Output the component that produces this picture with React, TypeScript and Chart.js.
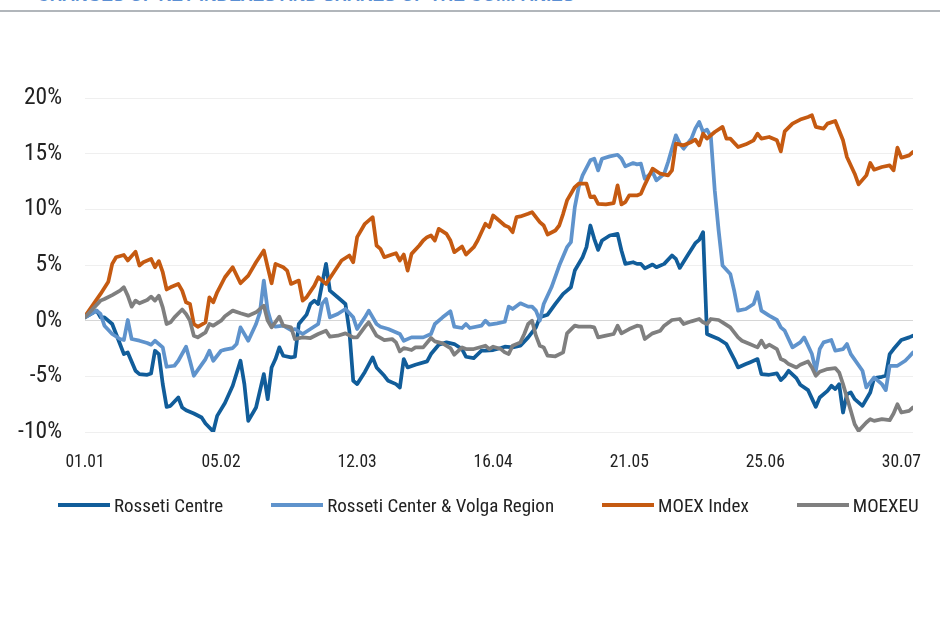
import { useEffect, useRef } from "react";
import { Chart, registerables } from "chart.js";

Chart.register(...registerables);

const FONT = "Roboto";
const STRETCH = "condensed";

const titleText = "CHANGES OF KEY INDEXES AND SHARES OF THE COMPANIES";
const tickDays = [0, 35, 70, 105, 140, 175, 210];
const tickLabels = ["01.01", "05.02", "12.03", "16.04", "21.05", "25.06", "30.07"];
const seriesNames = ["Rosseti Centre", "Rosseti Center & Volga Region", "MOEX Index", "MOEXEU"];
const seriesColors = ["#115d9a", "#5f93cc", "#c55a11", "#7f7f7f"];

const centreDays = [0,3,4,5,7,8,9,10,11,13,14,16,17,18,19,20,21,22,24,25,26,28,30,31,33,34,36,38,40,41,42,44,46,47,48,49,50,51,53,54,55,57,58,59,60,62,63,65,67,68,69,70,72,74,75,77,78,80,81,82,83,85,88,89,91,93,95,97,98,100,102,103,105,107,108,110,112,114,116,117,119,121,123,124,125,126,128,129,130,131,132,133,135,137,138,139,141,142,143,144,146,147,149,151,152,153,155,157,158,159,160,161,163,165,167,168,170,171,173,174,176,178,179,180,181,183,184,186,188,189,191,192,193,194,195,196,197,198,200,202,203,205,206,207,208,210,212,213];
const centreVals = [0.3,0.9,0.3,0.3,-0.3,-1.2,-2.1,-3.0,-2.85,-4.5,-4.8,-4.86,-4.74,-2.7,-3.0,-5.7,-7.74,-7.65,-6.9,-7.8,-8.04,-8.34,-8.7,-9.24,-9.96,-8.55,-7.4,-5.85,-3.6,-5.7,-9.0,-7.8,-4.8,-7.05,-4.2,-3.45,-2.4,-3.15,-3.3,-3.24,-0.3,0.54,1.5,1.8,1.5,5.1,2.7,2.1,1.5,-0.9,-5.4,-5.7,-4.6,-3.3,-4.2,-4.95,-5.4,-5.7,-6.0,-3.45,-4.2,-3.96,-3.66,-3.0,-2.16,-1.95,-2.1,-2.55,-3.24,-3.36,-2.7,-2.7,-2.64,-2.46,-2.34,-2.4,-2.25,-1.5,-0.6,0.3,0.54,1.5,2.4,2.7,3.0,4.5,5.7,6.6,8.55,7.35,6.36,7.2,7.65,7.8,6.3,5.1,5.25,5.1,5.1,4.7,5.04,4.8,5.1,5.85,5.55,4.74,5.85,6.96,7.26,7.95,-1.2,-1.35,-1.65,-2.1,-3.45,-4.2,-3.9,-3.75,-3.45,-4.8,-4.86,-4.74,-5.34,-5.0,-4.5,-5.16,-5.76,-6.24,-7.74,-6.9,-6.3,-5.85,-6.15,-5.7,-8.25,-6.6,-6.45,-7.05,-7.65,-6.45,-5.16,-5.04,-4.95,-3.0,-2.55,-1.74,-1.5,-1.35];

const volgaDays = [0,3,4,5,7,9,10,11,12,14,16,17,18,20,21,23,24,26,27,28,29,31,32,33,35,36,38,39,40,42,44,45,46,47,48,49,51,53,54,56,58,60,61,62,63,65,67,69,70,72,73,75,76,78,81,82,84,87,89,90,92,94,95,97,98,99,102,103,104,106,108,109,110,112,114,115,116,117,118,120,122,124,125,126,127,128,130,131,132,133,135,137,138,139,141,142,143,144,146,147,149,150,152,153,154,156,157,158,159,160,161,162,163,164,166,167,168,170,172,173,174,176,178,179,180,182,184,185,187,188,189,190,192,193,195,196,197,200,201,203,205,206,207,209,211,212,213];
const volgaVals = [0.3,0.9,0.6,-0.45,-1.2,-1.65,-1.74,0.06,-1.65,-1.8,-2.0,-2.16,-1.8,-2.4,-4.14,-4.05,-3.6,-2.34,-3.6,-4.95,-4.44,-3.45,-2.7,-3.6,-2.7,-2.6,-2.46,-2.1,-0.6,-1.8,-0.3,0.75,3.6,0.9,-0.3,-0.54,-0.45,-0.84,-0.75,-1.2,-0.75,-0.3,1.5,1.95,0.3,0.6,1.05,0.3,-0.75,0.3,0.9,-0.3,-0.54,-0.75,-1.2,-1.8,-1.5,-1.5,-1.2,-0.3,0.3,0.84,-0.54,-0.66,-0.3,-0.66,-0.45,0,-0.36,-0.24,-0.1,1.26,1.05,1.56,1.26,1.26,0.9,0,1.5,3.0,4.95,6.6,7.05,10.2,12.0,13.05,14.4,14.55,13.5,14.55,14.76,14.9,14.55,13.86,14.16,14.04,14.1,12.75,13.35,12.6,13.2,14.25,16.65,15.9,15.45,16.35,17.25,17.85,16.95,17.16,16.5,11.7,8.1,4.95,4.2,2.7,0.9,1.05,1.5,2.55,0.9,0.45,0.06,-0.6,-0.9,-2.4,-1.95,-1.5,-3.0,-4.5,-2.55,-1.95,-1.74,-2.7,-2.55,-2.1,-3.0,-4.5,-6.0,-5.1,-5.7,-6.24,-4.05,-4.05,-3.6,-3.24,-2.85];

const moexDays = [0,4,6,7,8,10,11,13,14,15,17,18,19,20,21,22,24,25,26,27,28,29,31,32,33,34,36,38,40,42,44,46,47,48,49,51,52,53,55,56,57,59,60,62,64,66,68,69,70,72,74,75,76,77,79,80,81,82,83,84,86,87,88,89,90,91,93,94,95,97,98,100,101,103,104,105,106,108,109,110,111,112,114,115,117,118,119,121,122,123,124,125,126,127,129,130,131,132,134,136,137,138,139,140,142,143,144,146,148,150,151,152,154,156,157,158,159,160,162,164,165,166,168,170,172,173,174,176,178,179,180,182,184,186,187,188,190,191,193,195,196,198,199,201,202,203,205,207,208,209,210,212,213];
const moexVals = [0.4,2.4,3.5,5.1,5.7,5.9,5.4,6.2,4.95,5.25,5.55,4.8,5.35,4.35,2.8,3.0,3.3,2.7,1.65,1.5,-0.3,-0.55,-0.15,2.1,1.65,2.55,3.9,4.8,3.36,4.05,5.25,6.3,4.8,3.36,5.1,4.8,4.5,3.3,3.6,1.8,2.1,3.15,3.9,3.3,4.35,5.4,5.85,5.25,7.5,8.7,9.3,6.75,6.45,5.7,5.94,6.06,5.4,5.94,4.5,6.0,6.75,7.2,7.5,7.65,7.2,8.25,7.8,7.2,6.15,6.66,5.94,6.6,7.2,8.7,8.4,9.45,9.15,8.55,8.4,7.95,9.3,9.36,9.6,9.75,8.85,8.55,7.74,8.1,8.55,9.6,10.8,11.4,12.0,12.3,12.3,11.1,11.16,10.5,10.44,10.56,12.15,10.44,10.65,11.25,11.25,11.4,12.2,13.65,13.2,13.05,13.5,15.9,15.75,16.05,16.26,15.75,16.8,16.35,16.95,17.4,16.35,16.35,15.6,15.84,16.2,16.8,16.35,16.5,16.2,15.2,17.0,17.7,18.06,18.3,18.45,17.4,17.25,17.7,17.94,16.2,14.7,13.2,12.24,13.05,14.16,13.56,13.8,13.95,13.5,15.54,14.64,14.85,15.15];

const moexeuDays = [0,4,5,7,9,10,11,12,13,14,16,17,18,19,20,21,22,23,25,26,27,28,29,31,32,33,35,36,38,40,42,44,46,47,48,50,51,53,54,56,58,60,62,63,65,67,69,70,72,73,75,77,79,80,81,82,84,85,87,89,90,92,94,95,97,98,100,103,104,105,107,108,109,110,112,113,114,115,116,117,118,119,121,123,124,126,127,130,131,132,134,136,137,138,140,142,143,144,146,148,149,151,153,154,156,158,159,160,161,163,164,166,168,169,171,173,174,175,176,178,179,180,181,183,184,186,187,188,189,191,193,194,195,196,197,198,199,201,202,203,205,207,208,209,210,212,213];
const moexeuVals = [0.3,1.8,1.95,2.3,2.7,3.0,2.25,1.26,1.8,1.56,1.86,2.16,1.8,2.25,1.2,-0.3,-0.15,0.3,1.0,0.6,0,-1.35,-1.5,-1.05,-0.3,-0.45,0,0.4,0.9,0.66,0.45,0.75,1.35,0,-0.6,0.36,-0.45,-0.6,-1.65,-1.5,-1.56,-1.2,-0.9,-1.44,-1.35,-1.14,-1.5,-1.5,-0.55,-0.15,-1.35,-1.74,-1.65,-1.95,-2.76,-2.46,-2.64,-2.4,-2.4,-1.56,-1.86,-2.04,-2.46,-3.06,-2.4,-2.55,-2.55,-2.25,-2.55,-2.34,-2.55,-2.85,-3.0,-2.25,-1.95,-1.2,-0.3,0,-1.35,-2.25,-2.4,-3.15,-3.2,-2.85,-1.14,-0.45,-0.54,-0.54,-0.6,-1.5,-1.35,-1.2,-0.45,-1.14,-0.75,-0.45,-0.5,-1.65,-1.14,-0.9,-0.45,0.06,0.15,-0.3,-0.06,0.15,-0.15,-0.3,0.15,0.06,-0.15,-0.6,-1.5,-1.8,-2.1,-2.4,-1.8,-2.4,-2.16,-2.55,-3.45,-3.6,-3.9,-4.2,-3.96,-3.66,-4.2,-4.95,-4.59,-4.35,-4.26,-4.65,-5.7,-6.9,-8.1,-9.3,-9.9,-9.15,-8.85,-9.0,-8.85,-8.94,-8.34,-7.5,-8.25,-8.1,-7.8];

const seriesDays = [centreDays, volgaDays, moexDays, moexeuDays];
const seriesVals = [centreVals, volgaVals, moexVals, moexeuVals];

export default function App() {
  const ref = useRef<HTMLCanvasElement>(null);

  useEffect(() => {
    const canvas = ref.current;
    if (!canvas) return;
    const datasets = seriesNames.map((name, i) => ({
      label: name,
      data: seriesDays[i].map((d, j) => ({ x: d, y: seriesVals[i][j] })),
      borderColor: seriesColors[i],
      backgroundColor: seriesColors[i],
      borderWidth: 3.75,
      pointRadius: 0,
      pointHoverRadius: 0,
      tension: 0,
      borderJoinStyle: "round" as const,
      borderCapStyle: "round" as const,
      order: seriesNames.length - i,
    }));
    const chart = new Chart(canvas, {
      type: "line",
      data: { datasets },
      options: {
        responsive: false,
        animation: false,
        devicePixelRatio: 1,
        layout: { padding: { left: 10, right: 27, top: 98, bottom: 154 } },
        plugins: {
          tooltip: { enabled: false },
          legend: { display: false },
        },
        scales: {
          x: {
            type: "linear",
            min: 0,
            max: 213,
            grid: { display: false },
            border: { display: false },
            afterBuildTicks: (s: any) => {
              s.ticks = tickDays.map((v) => ({ value: v }));
            },
            afterFit: (s: any) => {
              s.height = 35;
            },
            ticks: {
              autoSkip: false,
              maxRotation: 0,
              padding: 12,
              color: "#222222",
              font: { family: FONT, size: 17.5, weight: STRETCH as any },
              callback: (_v: any, i: number) => tickLabels[i],
            },
          },
          y: {
            min: -10,
            max: 20,
            afterFit: (s: any) => {
              s.width = 75;
            },
            border: { display: false },
            grid: {
              drawTicks: false,
              lineWidth: 1,
              color: (ctx: any) => (ctx.tick && ctx.tick.value === 0 ? "#d6d6d6" : "#efefef"),
            },
            ticks: {
              stepSize: 5,
              padding: 23,
              color: "#222222",
              font: { family: FONT, size: 23.5, weight: STRETCH as any },
              callback: (v: any) => `${v}%`,
            },
          },
        },
      },
    });
    return () => chart.destroy();
  }, []);

  return (
    <div
      style={{
        position: "fixed",
        left: 0,
        top: 0,
        width: 940,
        height: 621,
        background: "#ffffff",
        overflow: "hidden",
      }}
    >
      <div
        style={{
          position: "absolute",
          left: 37,
          top: -13,
          font: 'bold 17.5px "Liberation Sans", Arial, sans-serif',
          lineHeight: "17px",
          color: "#5b8fd3",
          whiteSpace: "nowrap",
        }}
      >
        {titleText}
      </div>
      <div
        style={{
          position: "absolute",
          left: 0,
          top: 10,
          width: 940,
          height: 2,
          background: "#b1b6bb",
        }}
      />
      <canvas
        ref={ref}
        width={940}
        height={621}
        style={{ position: "absolute", left: 0, top: 0, width: 940, height: 621 }}
      />
      <div
        style={{
          position: "absolute",
          left: 58,
          top: 494,
          height: 22,
          display: "flex",
          alignItems: "center",
          fontFamily: FONT,
          fontStretch: STRETCH,
          fontSize: 19,
          color: "#222222",
          whiteSpace: "nowrap",
        }}
      >
        {seriesNames.map((name, i) => (
          <div key={name} style={{ display: "flex", alignItems: "center", marginRight: 48 }}>
            <div style={{ width: 52, height: 4, background: seriesColors[i], marginRight: 4 }} />
            <span>{name}</span>
          </div>
        ))}
      </div>
    </div>
  );
}
